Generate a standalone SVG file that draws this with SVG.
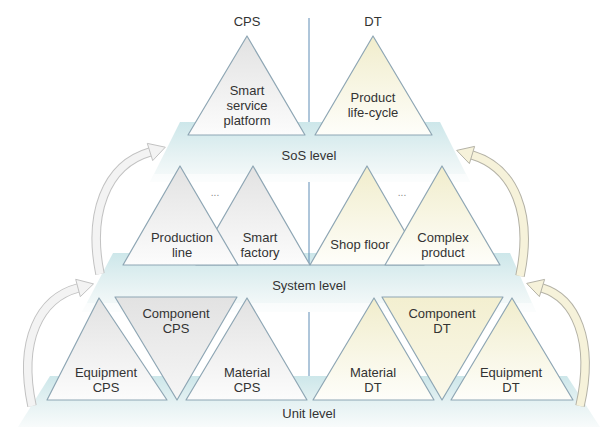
<svg xmlns="http://www.w3.org/2000/svg" width="600" height="427" viewBox="0 0 600 427">
<defs>
<linearGradient id="gPlat" x1="0" y1="0" x2="0" y2="1">
<stop offset="0" stop-color="#cde7ea"/>
<stop offset="0.55" stop-color="#e6f2f3"/>
<stop offset="1" stop-color="#f8fbfb"/>
</linearGradient>
<linearGradient id="gCps" x1="0" y1="0" x2="0" y2="1">
<stop offset="0" stop-color="#e2e2e2"/>
<stop offset="1" stop-color="#fcfcfc"/>
</linearGradient>
<linearGradient id="gDt" x1="0" y1="0" x2="0" y2="1">
<stop offset="0" stop-color="#f1edcc"/>
<stop offset="1" stop-color="#fefefa"/>
</linearGradient>
<linearGradient id="gCpsInv" x1="0" y1="0" x2="0" y2="1">
<stop offset="0" stop-color="#e2e2e2"/>
<stop offset="1" stop-color="#f6f6f6"/>
</linearGradient>
<linearGradient id="gDtInv" x1="0" y1="0" x2="0" y2="1">
<stop offset="0" stop-color="#f3efd0"/>
<stop offset="1" stop-color="#faf8ea"/>
</linearGradient>
</defs>
<style>
.plat{fill:url(#gPlat)}
.band{fill:#ffffff;opacity:0.55}
.tri{stroke:#8ea6b4;stroke-width:1.2;stroke-linejoin:round}
.cps{fill:url(#gCps)}
.dt{fill:url(#gDt)}
.cpsi{fill:url(#gCpsInv)}
.dti{fill:url(#gDtInv)}
.lbl{font-family:"Liberation Sans",Arial,sans-serif;font-size:13px;fill:#333;text-anchor:middle}
.dots{font-family:"Liberation Sans",Arial,sans-serif;font-size:10px;fill:#888;text-anchor:middle}
.div{stroke:#5f8cb5;stroke-width:1;fill:none}
.aout-g{stroke:#c2c2c2;stroke-width:9.5;fill:none}
.ain-g{stroke:#f3f3f3;stroke-width:7.5;fill:none}
.ah-g{fill:#f3f3f3;stroke:#c2c2c2;stroke-width:1;stroke-linejoin:miter}
.aout-y{stroke:#b4b2a6;stroke-width:9.5;fill:none}
.ain-y{stroke:#f6f2da;stroke-width:7.5;fill:none}
.ah-y{fill:#f6f2da;stroke:#b4b2a6;stroke-width:1;stroke-linejoin:miter}
</style>

<g id="platforms">
<g id="sos-platform">
<polygon class="plat" points="180,122 440,122 470,182 150,182"/>
<polygon class="band" points="154,174 466,174 470,182 150,182"/>
</g>
<g id="system-platform">
<polygon class="plat" points="113,253 510,253 536,312 82,312"/>
<polygon class="band" points="86,303 532,303 536,312 82,312"/>
</g>
<g id="unit-platform">
<polygon class="plat" points="50,376 567,376 600,427 18,427"/>
</g>
</g>

<g id="connectors">
<line class="div" x1="309" y1="18" x2="309" y2="122"/>
<line class="div" x1="309" y1="182" x2="309" y2="265"/>
<line class="div" x1="309" y1="312" x2="309" y2="376"/>
<g id="arrow-left-upper">
<path class="aout-g" d="M 100 274 C 88 215, 105 165, 150 152"/>
<path class="ain-g" d="M 100 274 C 88 215, 105 165, 150 152"/>
<polygon class="ah-g" points="152.7,160.6 165.3,147.2 147.3,143.4"/>
</g>
<g id="arrow-right-upper">
<path class="aout-y" d="M 520 276 C 533 215, 515 168, 472 155"/>
<path class="ain-y" d="M 520 276 C 533 215, 515 168, 472 155"/>
<polygon class="ah-y" points="474.6,146.4 456.7,150.4 469.4,163.6"/>
</g>
<g id="arrow-left-lower">
<path class="aout-g" d="M 32 406 C 18 340, 40 298, 78 288"/>
<path class="ain-g" d="M 32 406 C 18 340, 40 298, 78 288"/>
<polygon class="ah-g" points="80.3,296.7 93.5,283.9 75.7,279.3"/>
</g>
<g id="arrow-right-lower">
<path class="aout-y" d="M 580 406 C 595 340, 575 298, 542 288"/>
<path class="ain-y" d="M 580 406 C 595 340, 575 298, 542 288"/>
<polygon class="ah-y" points="544.6,279.4 526.7,283.4 539.4,296.6"/>
</g>
</g>

<text class="lbl" x="247" y="26">CPS</text>
<text class="lbl" x="373" y="26">DT</text>

<g id="smart-service-platform">
<polygon class="tri cps" points="247,36 305,135 188,135"/>
<text class="lbl" x="247" y="95">Smart</text>
<text class="lbl" x="247" y="110">service</text>
<text class="lbl" x="247" y="125">platform</text>
</g>
<g id="product-life-cycle">
<polygon class="tri dt" points="373,36 432,135 315,135"/>
<text class="lbl" x="373" y="102">Product</text>
<text class="lbl" x="373" y="117">life-cycle</text>
</g>
<text class="lbl" x="309" y="160">SoS level</text>

<g id="smart-factory">
<polygon class="tri cps" points="253,166 310,265 196,265"/>
<text class="lbl" x="260" y="242">Smart</text>
<text class="lbl" x="260" y="257">factory</text>
</g>
<g id="production-line">
<polygon class="tri cps" points="180,166 238,265 123,265"/>
<text class="lbl" x="182" y="242">Production</text>
<text class="lbl" x="182" y="257">line</text>
</g>
<text class="dots" x="215" y="196">...</text>
<g id="shop-floor">
<polygon class="tri dt" points="367,166 424,265 310,265"/>
<text class="lbl" x="360" y="249">Shop floor</text>
</g>
<g id="complex-product">
<polygon class="tri dt" points="442,166 500,265 385,265"/>
<text class="lbl" x="443" y="242">Complex</text>
<text class="lbl" x="443" y="257">product</text>
</g>
<text class="dots" x="402" y="196">...</text>
<text class="lbl" x="309" y="290">System level</text>

<g id="equipment-cps">
<polygon class="tri cps" points="99,298 167,400 47,400"/>
<text class="lbl" x="106" y="377">Equipment</text>
<text class="lbl" x="106" y="392">CPS</text>
</g>
<g id="component-cps">
<polygon class="tri cpsi" points="115,297 237,297 177,400"/>
<text class="lbl" x="176" y="318">Component</text>
<text class="lbl" x="176" y="333">CPS</text>
</g>
<g id="material-cps">
<polygon class="tri cps" points="247,298 307,400 186,400"/>
<text class="lbl" x="247" y="377">Material</text>
<text class="lbl" x="247" y="392">CPS</text>
</g>
<g id="material-dt">
<polygon class="tri dt" points="374,298 434,400 313,400"/>
<text class="lbl" x="373" y="377">Material</text>
<text class="lbl" x="373" y="392">DT</text>
</g>
<g id="component-dt">
<polygon class="tri dti" points="382,297 503,297 442,400"/>
<text class="lbl" x="442" y="318">Component</text>
<text class="lbl" x="442" y="333">DT</text>
</g>
<g id="equipment-dt">
<polygon class="tri dt" points="512,298 573,400 451,400"/>
<text class="lbl" x="511" y="377">Equipment</text>
<text class="lbl" x="511" y="392">DT</text>
</g>
<text class="lbl" x="309" y="418">Unit level</text>
</svg>
